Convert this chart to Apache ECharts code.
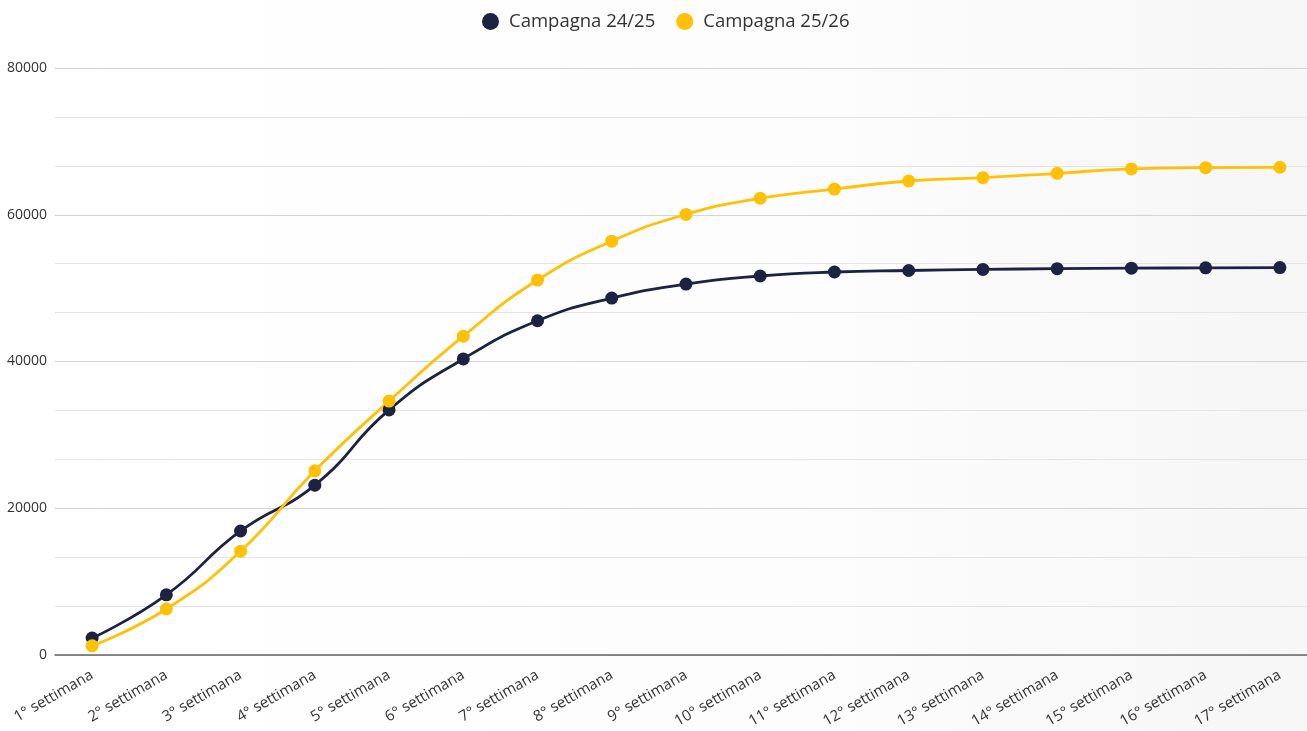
<!DOCTYPE html>
<html>
<head>
<meta charset="utf-8">
<script src="https://cdn.jsdelivr.net/npm/echarts@6/dist/echarts.min.js"></script>
<style>
  html, body { margin: 0; padding: 0; background: #fff; }
  #chart { width: 1307px; height: 731px; }
</style>
</head>
<body>
<div id="chart"></div>
<script>
const weeks = ['1° settimana', '2° settimana', '3° settimana', '4° settimana', '5° settimana',
  '6° settimana', '7° settimana', '8° settimana', '9° settimana', '10° settimana',
  '11° settimana', '12° settimana', '13° settimana', '14° settimana', '15° settimana',
  '16° settimana', '17° settimana']
const campagna2425 = [2300, 8200, 16900, 23150, 33400, 40350, 45550, 48650, 50550, 51650,
  52200, 52400, 52550, 52650, 52720, 52760, 52800]
const campagna2526 = [1250, 6270, 14150, 25100, 34600, 43450, 51100, 56400, 60050, 62250,
  63500, 64600, 65050, 65650, 66250, 66420, 66470]

const chart = echarts.init(document.getElementById('chart'))
const font = '"Open Sans", "Noto Sans", sans-serif'

chart.setOption({
  backgroundColor: new echarts.graphic.LinearGradient(0, 0, 1, 0, [
    { offset: 0, color: '#ffffff' },
    { offset: 0.6, color: '#fdfdfd' },
    { offset: 1, color: '#f6f6f6' }
  ]),
  textStyle: { fontFamily: font },
  legend: {
    top: 7,
    left: 477,
    icon: 'circle',
    itemWidth: 17,
    itemHeight: 17,
    itemGap: 21,
    textStyle: { color: '#333', fontSize: 18.5, fontFamily: font, padding: [0, 0, 0, 5] },
    data: ['Campagna 24/25', 'Campagna 25/26']
  },
  grid: {
    left: 55,
    width: 1262,
    top: 68,
    bottom: 76,
    outerBoundsMode: 'none'
  },
  xAxis: {
    type: 'category',
    data: weeks,
    boundaryGap: true,
    axisTick: { show: false },
    axisLine: { lineStyle: { color: '#666', width: 1.5 } },
    axisLabel: {
      rotate: 30,
      interval: 0,
      color: '#333',
      fontSize: 15,
      margin: 19,
      fontFamily: font
    }
  },
  yAxis: {
    type: 'value',
    min: 0,
    max: 80000,
    interval: 20000,
    axisLine: { show: false },
    axisTick: { show: false },
    axisLabel: {
      color: '#333',
      fontSize: 14,
      margin: 8,
      fontFamily: font,
      formatter: (v) => String(v)
    },
    splitLine: { lineStyle: { color: '#d4d4d4', width: 1.2 } },
    minorTick: { show: false, splitNumber: 3 },
    minorSplitLine: { show: true, lineStyle: { color: '#e4e4e4', width: 1.2 } }
  },
  series: [
    {
      name: 'Campagna 24/25',
      type: 'line',
      smooth: true,
      symbol: 'circle',
      symbolSize: 13,
      color: '#1c2241',
      lineStyle: { width: 2.8 },
      data: campagna2425
    },
    {
      name: 'Campagna 25/26',
      type: 'line',
      smooth: true,
      symbol: 'circle',
      symbolSize: 13,
      color: '#ffc107',
      lineStyle: { width: 2.8 },
      data: campagna2526
    }
  ]
})
</script>
</body>
</html>
